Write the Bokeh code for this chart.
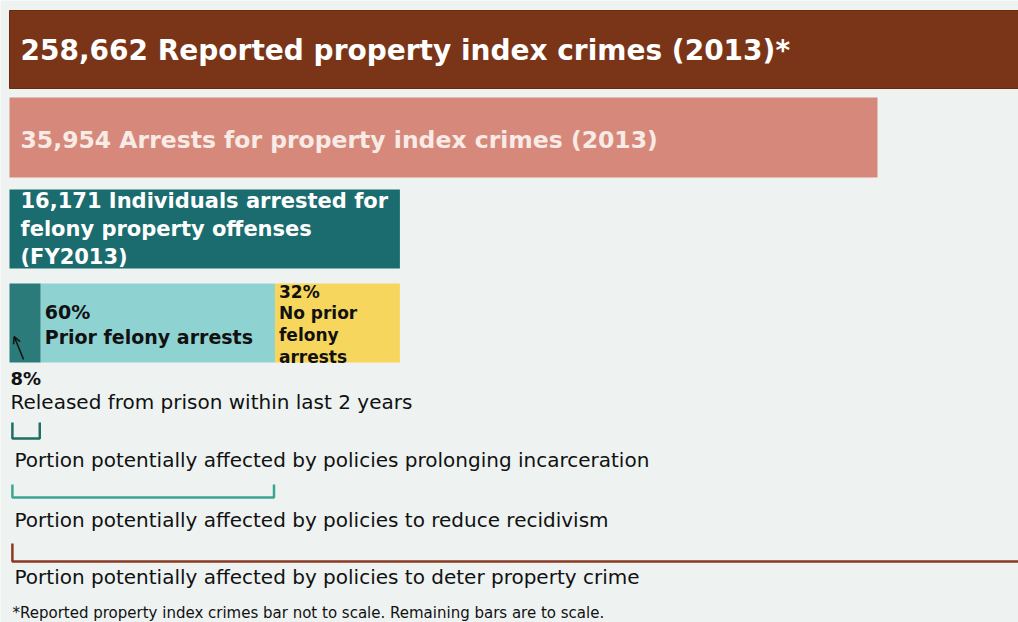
from bokeh.plotting import figure
from bokeh.models import Range1d, Arrow, OpenHead
from bokeh.embed import file_html
from bokeh.resources import INLINE
from bokeh.core.properties import value

# ---- data ----
reported_crimes = 258662
arrests = 35954
individuals = 16171
bar_titles = [
    "258,662 Reported property index crimes (2013)*",
    "35,954 Arrests for property index crimes (2013)",
]
individuals_lines = ["16,171 Individuals arrested for", "felony property offenses", "(FY2013)"]
segment_names = ["Released from prison within last 2 years", "Prior felony arrests", "No prior felony arrests"]
segment_pcts = [8, 60, 32]
bracket_labels = [
    "Portion potentially affected by policies prolonging incarceration",
    "Portion potentially affected by policies to reduce recidivism",
    "Portion potentially affected by policies to deter property crime",
]
footnote = "*Reported property index crimes bar not to scale. Remaining bars are to scale."

# ---- styling ----
BG = "#eef3f2"
FONT = "DejaVu Sans"
W, H = 1018, 622
px_per_unit = 868.0 / arrests
x0 = -9.0 / px_per_unit
x1 = x0 + W / px_per_unit

p = figure(width=W, height=H, output_backend="svg", toolbar_location=None,
           x_range=Range1d(x0, x1), y_range=Range1d(H, 0),
           min_border=0, min_border_left=0, min_border_right=0,
           min_border_top=0, min_border_bottom=0)
p.axis.visible = False
p.grid.visible = False
p.outline_line_color = None
p.background_fill_color = BG
p.border_fill_color = BG

def T(x, y, txt, size, color="#111111", bold=False, xo=0):
    p.text(x=[x], y=[y], text=[txt], x_offset=xo, text_font=value(FONT),
           text_font_size=f"{size}px", text_color=color,
           text_font_style="bold" if bold else "normal",
           text_baseline="alphabetic", text_align="left")

# Bar 1 (not to scale: runs off the right edge)
p.quad(left=[0], right=[x1 * 1.05], top=[10], bottom=[88], fill_color="#7a3518", line_color="#6a2a10", line_width=1)
T(0, 50, bar_titles[0], 28, color="#ffffff", bold=True, xo=11)

# Bar 2
p.quad(left=[0], right=[arrests], top=[97], bottom=[177], fill_color="#d6897b", line_color=None)
T(0, 139, bar_titles[1], 23.5, color="#f8ebe6", bold=True, xo=11)

# Bar 3
p.quad(left=[0], right=[individuals], top=[189], bottom=[268], fill_color="#1b6c6f", line_color=None)
for i, line in enumerate(individuals_lines):
    T(0, 200 + 28 * i, line, 21, color="#ffffff", bold=True, xo=11)

# Bar 4 segmented
seg_colors = ["#2a7b79", "#8fd2d2", "#f6d65c"]
lefts, rights = [], []
acc = 0.0
for pct in segment_pcts:
    w = individuals * pct / 100.0
    lefts.append(acc)
    rights.append(acc + w)
    acc += w
p.quad(left=lefts, right=rights, top=[283] * 3, bottom=[362] * 3, fill_color=seg_colors, line_color=None)

T(lefts[1], 311, f"{segment_pcts[1]}%", 19, bold=True, xo=4)
T(lefts[1], 336, segment_names[1], 19, bold=True, xo=4)
no_prior = [f"{segment_pcts[2]}%", "No prior", "felony", "arrests"]
for i, line in enumerate(no_prior):
    T(lefts[2], 291 + 21.7 * i, line, 17, bold=True, xo=4)

# arrow in the dark segment
p.add_layout(Arrow(end=OpenHead(size=7, line_color="#111111", line_width=1.5),
                   x_start=rights[0] * 0.45, y_start=359,
                   x_end=rights[0] * 0.15, y_end=336,
                   line_color="#111111", line_width=1.5))

T(0, 378, f"{segment_pcts[0]}%", 18, bold=True, xo=1)
T(0, 401, segment_names[0], 20, xo=1)

# brackets
bracket_spans = [(0.0, rights[0]), (0.0, rights[1]), (0.0, x1 * 1.05)]
bracket_tops = [422, 484, 543]
bracket_bottoms = [438, 497, 561]
bracket_colors = ["#1f6e62", "#3aa592", "#8a3a22"]
for (a, b), t, bt, c in zip(bracket_spans, bracket_tops, bracket_bottoms, bracket_colors):
    p.line(x=[a + 120, a + 120, b - 40, b - 40], y=[t, bt, bt, t], line_color=c, line_width=2.5)

label_y = [459, 519, 576]
for txt, y in zip(bracket_labels, label_y):
    T(0, y, txt, 20, xo=5)

T(0, 612, footnote, 15, xo=3)

open("out.html", "w").write(file_html(p, INLINE))
